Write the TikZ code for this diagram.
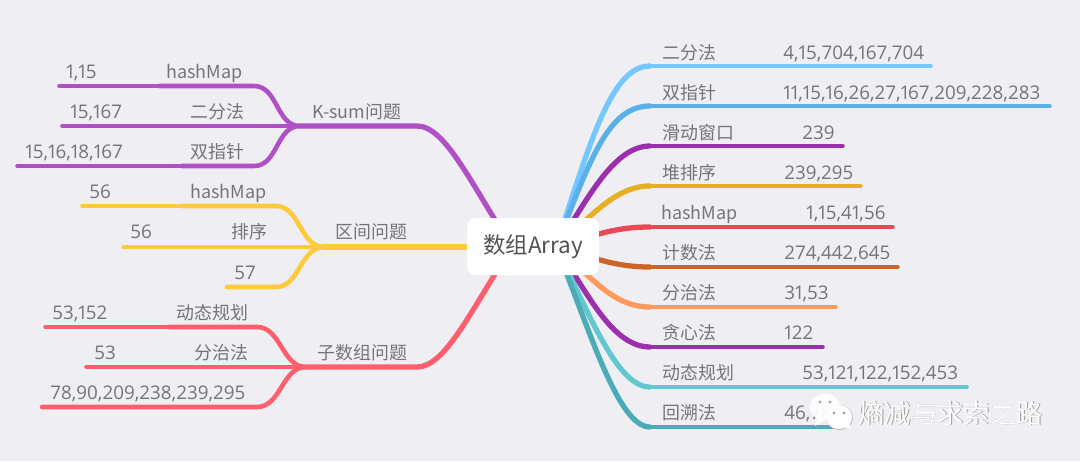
\documentclass[tikz,border=0pt]{standalone}
\usepackage{fontspec}
\setmainfont{Noto Sans CJK SC}
\newfontfamily\numfont[Numbers=Proportional]{Open Sans}
\usetikzlibrary{positioning}
\definecolor{bgc}{HTML}{EFEEF3}
\definecolor{txc}{HTML}{757575}
\definecolor{ksc}{HTML}{B04FC6}
\definecolor{qjc}{HTML}{FFC93C}
\definecolor{zsc}{HTML}{FF5F6D}
\definecolor{rac}{HTML}{74C7FF}
\definecolor{rbc}{HTML}{5AB0E8}
\definecolor{rcc}{HTML}{9B2FAE}
\definecolor{rdc}{HTML}{E6B023}
\definecolor{rec}{HTML}{EC4755}
\definecolor{rfc}{HTML}{CE6427}
\definecolor{rgc}{HTML}{FF9A5C}
\definecolor{ric}{HTML}{62C8CF}
\definecolor{rjc}{HTML}{4BACB5}
\tikzset{
  lb/.style={anchor=base west,inner sep=0pt,text=txc,font=\fontsize{10.2}{12}\selectfont},
  nm/.style={anchor=base west,inner sep=0pt,text=txc,font=\numfont\fontsize{10.7}{12}\selectfont},
  rootb/.style={rounded corners=4.6pt,fill=white,text=black!68,font=\fontsize{12.8}{15}\selectfont,minimum width=2.64cm,minimum height=1.14cm,inner sep=0pt},
  tp/.style={line width=2pt,line cap=round},
  tw/.style={line width=2.6pt,line cap=round},
  lm/.style={line width=3pt,line cap=round},
  bub/.style={fill=white,opacity=.93},
  eye/.style={fill=black!35},
  wm/.style={anchor=base west,inner sep=0pt,font=\fontsize{15}{18}\selectfont},
}
\begin{document}
\begin{tikzpicture}[x=0.02cm,y=-0.02cm]
\fill[bgc] (0,0) rectangle (1080,461);
\useasboundingbox (0,0) rectangle (1080,461);
\coordinate (lfh) at (512,247);
\coordinate (rth) at (556,247);
% ---------- left: K-sum ----------
\coordinate (k1e) at (59,86);  \coordinate (k1m) at (159,86);  \coordinate (k1b) at (254,86);
\coordinate (k2e) at (62,126); \coordinate (k2m) at (182,126);
\coordinate (k3e) at (17,166); \coordinate (k3m) at (182,166); \coordinate (k3b) at (254,166);
\coordinate (kj) at (300,126); \coordinate (kb) at (417,126);
\draw[tp,ksc] (k1e)--(k1m) (k2e)--(k2m) (k3e)--(k3m);
\draw[tw,ksc] (k1m)--(k1b) .. controls +(24,0) and +(-24,0) .. (kj);
\draw[tw,ksc] (k2m)--(kj);
\draw[tw,ksc] (k3m)--(k3b) .. controls +(24,0) and +(-24,0) .. (kj);
\draw[lm,ksc] (kj)--(kb) .. controls +(28,0) and +(-42,-65) .. (lfh);
\node[nm] (k1n) at (66,78) {1,15};          \node[lb] (k1t) at (166,78) {hashMap};
\node[nm] (k2n) at (70,118) {15,167};       \node[lb] (k2t) at (190,118) {二分法};
\node[nm] (k3n) at (25,158) {15,16,18,167}; \node[lb] (k3t) at (190,158) {双指针};
\node[lb] (kt) at (312,118) {K-sum问题};
% ---------- left: intervals ----------
\coordinate (q1e) at (82,206);  \coordinate (q1m) at (182,206); \coordinate (q1b) at (276,206);
\coordinate (q2e) at (123,247); \coordinate (q2m) at (222,247);
\coordinate (q3e) at (227,287); \coordinate (q3b) at (276,287);
\coordinate (qj) at (324,247);
\draw[tp,qjc] (q1e)--(q1m) (q2e)--(q2m);
\draw[tw,qjc] (q1m)--(q1b) .. controls +(24,0) and +(-24,0) .. (qj);
\draw[tw,qjc] (q2m)--(qj);
\draw[tw,qjc] (q3e)--(q3b) .. controls +(24,0) and +(-24,0) .. (qj);
\draw[lm,qjc] (qj)--(lfh);
\node[nm] (q1n) at (89,198) {56};  \node[lb] (q1t) at (190,198) {hashMap};
\node[nm] (q2n) at (130,238) {56}; \node[lb] (q2t) at (231,238) {排序};
\node[nm] (q3n) at (234,279) {57};
\node[lb] (qt) at (335,238) {区间问题};
% ---------- left: subarrays ----------
\coordinate (z1e) at (45,327);  \coordinate (z1m) at (168,327); \coordinate (z1b) at (257,327);
\coordinate (z2e) at (86,367);  \coordinate (z2m) at (186,367);
\coordinate (z3e) at (42,407);  \coordinate (z3b) at (257,407);
\coordinate (zj) at (306,367); \coordinate (zb) at (417,367);
\draw[tp,zsc] (z1e)--(z1m) (z2e)--(z2m);
\draw[tw,zsc] (z1m)--(z1b) .. controls +(24,0) and +(-24,0) .. (zj);
\draw[tw,zsc] (z2m)--(zj);
\draw[tw,zsc] (z3e)--(z3b) .. controls +(24,0) and +(-24,0) .. (zj);
\draw[lm,zsc] (zj)--(zb) .. controls +(28,0) and +(-42,65) .. (lfh);
\node[nm] (z1n) at (52,319) {53,152};  \node[lb] (z1t) at (176,319) {动态规划};
\node[nm] (z2n) at (94,359) {53};      \node[lb] (z2t) at (194,359) {分治法};
\node[nm] (z3n) at (50,399) {78,90,209,238,239,295};
\node[lb] (zt) at (317,359) {子数组问题};
% ---------- right: upper fan ----------
\coordinate (a1b) at (650,66);  \coordinate (a1m) at (723,66);  \coordinate (a1e) at (931,66);
\coordinate (a2b) at (650,106); \coordinate (a2m) at (723,106); \coordinate (a2e) at (1050,106);
\coordinate (a3b) at (650,146); \coordinate (a3m) at (741,146); \coordinate (a3e) at (843,146);
\coordinate (a4b) at (650,186); \coordinate (a4m) at (723,186); \coordinate (a4e) at (861,186);
\coordinate (a5b) at (650,227); \coordinate (a5m) at (746,227); \coordinate (a5e) at (893,227);
\draw[tp,rac] (a1m)--(a1e);
\draw[lm,rac] (rth) .. controls +(35,-108) and +(-38,0) .. (a1b);
\draw[tw,rac] (a1b)--(a1m);
\draw[tp,rbc] (a2m)--(a2e);
\draw[lm,rbc] (rth) .. controls +(34,-87) and +(-42,0) .. (a2b);
\draw[tw,rbc] (a2b)--(a2m);
\draw[tp,rcc] (a3m)--(a3e);
\draw[lm,rcc] (rth) .. controls +(29,-42) and +(-38,0) .. (a3b);
\draw[tw,rcc] (a3b)--(a3m);
\draw[tp,rdc] (a4m)--(a4e);
\draw[lm,rdc] (rth) .. controls +(34,-29) and +(-35,0) .. (a4b);
\draw[tw,rdc] (a4b)--(a4m);
\draw[tp,rec] (a5m)--(a5e);
\draw[lm,rec] (rth) .. controls +(39,-12) and +(-35,0) .. (a5b);
\draw[tw,rec] (a5b)--(a5m);
\node[lb] (a1t) at (662,59) {二分法};   \node[nm] (a1n) at (783,59) {4,15,704,167,704};
\node[lb] (a2t) at (662,99) {双指针};   \node[nm] (a2n) at (783,99) {11,15,16,26,27,167,209,228,283};
\node[lb] (a3t) at (662,139) {滑动窗口}; \node[nm] (a3n) at (802,139) {239};
\node[lb] (a4t) at (662,179) {堆排序};   \node[nm] (a4n) at (784,179) {239,295};
\node[lb] (a5t) at (661,219) {hashMap}; \node[nm] (a5n) at (806,219) {1,15,41,56};
% ---------- right: lower fan ----------
\coordinate (b1b) at (650,267); \coordinate (b1m) at (723,267); \coordinate (b1e) at (898,267);
\coordinate (b2b) at (650,307); \coordinate (b2m) at (723,307); \coordinate (b2e) at (836,307);
\coordinate (b3b) at (650,347); \coordinate (b3m) at (723,347); \coordinate (b3e) at (823,347);
\coordinate (b4b) at (650,387); \coordinate (b4m) at (741,387); \coordinate (b4e) at (967,387);
\coordinate (b5b) at (650,427); \coordinate (b5m) at (723,427); \coordinate (b5e) at (840,427);
\draw[tp,rfc] (b1m)--(b1e);
\draw[lm,rfc] (rth) .. controls +(39,11) and +(-35,0) .. (b1b);
\draw[tw,rfc] (b1b)--(b1m);
\draw[tp,rgc] (b2m)--(b2e);
\draw[lm,rgc] (rth) .. controls +(34,28) and +(-38,0) .. (b2b);
\draw[tw,rgc] (b2b)--(b2m);
\draw[tp,rcc] (b3m)--(b3e);
\draw[lm,rcc] (rth) .. controls +(28,38) and +(-40,0) .. (b3b);
\draw[tw,rcc] (b3b)--(b3m);
\draw[tp,ric] (b4m)--(b4e);
\draw[lm,ric] (rth) .. controls +(36,73) and +(-32,0) .. (b4b);
\draw[tw,ric] (b4b)--(b4m);
\draw[tp,rjc] (b5m)--(b5e);
\draw[lm,rjc] (rth) .. controls +(34,83) and +(-32,0) .. (b5b);
\draw[tw,rjc] (b5b)--(b5m);
\node[lb] (b1t) at (662,259) {计数法};   \node[nm] (b1n) at (784,259) {274,442,645};
\node[lb] (b2t) at (662,299) {分治法};   \node[nm] (b2n) at (784,299) {31,53};
\node[lb] (b3t) at (662,339) {贪心法};   \node[nm] (b3n) at (784,339) {122};
\node[lb] (b4t) at (662,379) {动态规划}; \node[nm] (b4n) at (802,379) {53,121,122,152,453};
\node[lb] (b5t) at (662,419) {回溯法};   \node[nm] (b5n) at (784,419) {46,78};
% ---------- root ----------
\node[rootb] (root) at (533,246.5) {数组Array};
% ---------- watermark ----------
\fill[bub] (825,407) ellipse (15 and 13.5);
\fill[bub] (818,417)--(815,426)--(826,419)--cycle;
\fill[eye] (820,402) circle (1.6) (830,402) circle (1.6);
\fill[black!22] (839.6,417.6) ellipse (13.5 and 12.5);
\fill[bub,opacity=1] (839,417) ellipse (13 and 12);
\fill[white] (842,426)--(851,429)--(848,421)--cycle;
\fill[eye] (834,413) circle (1.6) (844,413) circle (1.6);
\node[wm,text=black!40] (wms) at (858.7,423.7) {熵减与求索之路};
\node[wm,text=white] (wmt) at (858,423) {熵减与求索之路};
\end{tikzpicture}
\end{document}
